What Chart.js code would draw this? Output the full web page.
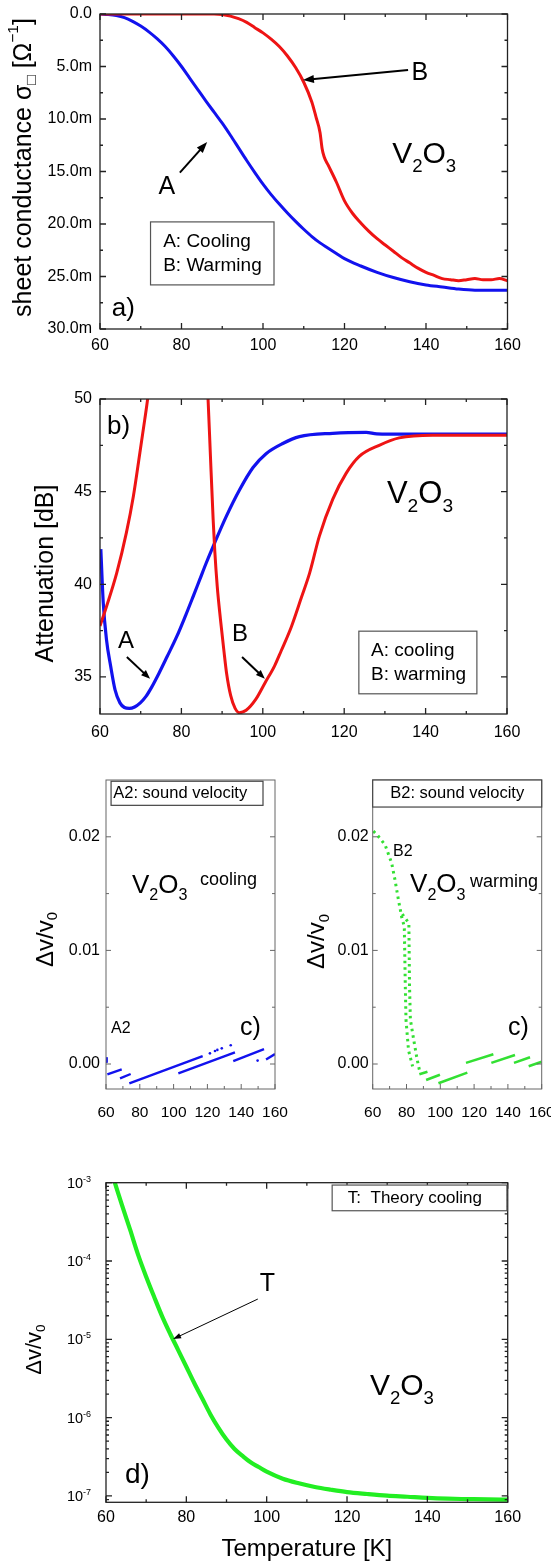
<!DOCTYPE html>
<html><head><meta charset="utf-8">
<script src="https://cdn.jsdelivr.net/npm/chart.js@4.4.0/dist/chart.umd.min.js"></script>
<style>
html,body{margin:0;padding:0;background:#fff;width:551px;height:1561px;overflow:hidden;position:relative}
canvas{position:absolute}
</style></head><body>
<canvas id="ca"></canvas><canvas id="cb"></canvas><canvas id="cc"></canvas><canvas id="cd"></canvas><canvas id="ce"></canvas>
<script>
// ---------------- DATA ----------------
const xTicks = [60, 80, 100, 120, 140, 160];

// panel a: sheet conductance (units of 1e-3 Ohm^-1)
const aYTicks = [0, 5, 10, 15, 20, 25, 30];
const aCoolT = [60,62,64,66,68,70,72,74,76,78,80,82,84,86,88,90,92,94,96,98,100,102,104,106,108,110,112,114,116,118,120,124,128,132,136,140,144,148,152,156,160];
const aCoolS = [0,0.05,0.15,0.35,0.7,1.15,1.7,2.35,3.1,4.0,5.0,6.1,7.2,8.3,9.35,10.4,11.55,12.75,13.95,15.1,16.2,17.2,18.1,18.95,19.75,20.5,21.2,21.8,22.3,22.8,23.3,24.0,24.6,25.1,25.5,25.8,26.0,26.2,26.3,26.3,26.3];
const aWarmT = [60,70,80,88,90,92,94,96,98,100,102,104,106,108,110,112,113,114,114.5,115,116,118,120,122,124,126,128,130,132,134,136,138,140,142,144,146,148,150,152,154,156,158,160];
const aWarmS = [0,0,0,0,0.05,0.2,0.45,0.8,1.3,1.8,2.4,3.1,4.0,5.1,6.5,8.4,9.8,11.3,12.8,13.6,14.4,16.0,17.8,19.0,19.9,20.7,21.4,22.0,22.6,23.2,23.7,24.2,24.6,24.9,25.2,25.3,25.4,25.3,25.2,25.3,25.3,25.2,25.4];

// panel b: attenuation (dB)
const bYTicks = [35, 40, 45, 50];
const bCoolT = [60.2,60.8,61.6,62.6,63.7,64.9,66,67.2,68.5,69.9,71.3,72.7,74.5,76.5,78.9,81,82.9,84.5,86.1,88.2,91,94.3,97.6,100.8,104.9,109,117.2,125.4,128,135,145,160];
const bCoolA = [41.9,39.0,37.0,35.6,34.3,33.6,33.35,33.3,33.38,33.6,33.95,34.45,35.2,36.1,37.2,38.3,39.35,40.25,41.15,42.25,43.65,45.1,46.3,47.05,47.6,47.97,48.15,48.2,48.12,48.1,48.1,48.1];
const bWarmT = [60,61.6,64.1,66.5,68.2,69.8,71,71.7,72.3,null,86.2,86.55,87.1,87.8,88.2,88.8,89.6,90.4,91.1,92.1,93.2,94.2,95.9,98.3,100.6,102.9,104.5,107,109.5,111.5,113.9,117.2,120.5,123.7,128.6,133.5,141.7,150,160];
const bWarmA = [37.75,38.8,40.6,42.8,44.75,47.1,48.9,50,51.2,null,51.5,50,47.1,43.5,41.8,39.9,38.1,36.5,35.2,34.0,33.3,33.07,33.2,33.8,34.7,35.6,36.4,37.7,39.3,40.6,42.6,44.6,46.0,46.9,47.5,47.9,48.05,48.05,48.05];

// panel c: sound velocity dv/v0
const cYTicks = [0, 0.01, 0.02];
const a2T = [60,60.4,null,60.8,69.3,null,68.3,74.6,null,73.8,117.2,null,102.8,136.3,null,135.3,153.5,null,154.7,160];
const a2V = [0.0006,0.0001,null,-0.00091,-0.00047,null,-0.00126,-0.00088,null,-0.0017,0.0007,null,-0.00082,0.00103,null,0.00026,0.0013,null,0.0004,0.00088];
const a2DotT = [121.5,124.5,125.9,128.5,133.8,149.7];
const a2DotV = [0.00094,0.00115,0.00124,0.00138,0.00165,0.0003];
const b2DropT = [60.4,63,67.3,71.2,73.2,75.2,77.2,78.7,79.3,79.7,81.2,83.6,null,77.5,81.4,81.8,82.3,84.3,86.3,87.6];
const b2DropV = [0.0205,0.0201,0.0193,0.0177,0.0162,0.01447,0.0129,0.0121,0.0068,0.0039,0.0012,-0.0002,null,0.0132,0.0124,0.0068,0.0039,0.0021,0.0004,-0.0005];
const b2T = [87.6,92.4,null,91.6,99.8,null,98.9,116,null,115.2,131.4,null,130.2,144.2,null,143.6,153.1,null,152.3,160];
const b2V = [-0.00091,-0.00068,null,-0.0014,-0.00094,null,-0.0017,-0.00076,null,0.0001,0.00085,null,0.0001,0.0008,null,0.0001,0.0006,null,-0.0002,0.0002];

// panel d: theory (log scale)
const dYTicks = [1e-7, 1e-6, 1e-5, 1e-4, 1e-3];
const dT = [62.2,64,66,68,70,72,74,76,78,80,82,84,86,88,90,92,94,96,98,100,104,108,112,116,120,125,130,135,140,145,150,155,160];
const dV = [1e-3,5.13e-4,2.51e-4,1.20e-4,6.31e-5,3.47e-5,1.95e-5,1.17e-5,7.24e-6,4.47e-6,2.75e-6,1.74e-6,1.10e-6,7.41e-7,5.25e-7,3.98e-7,3.24e-7,2.69e-7,2.34e-7,2.04e-7,1.66e-7,1.45e-7,1.30e-7,1.20e-7,1.12e-7,1.06e-7,1.01e-7,9.77e-8,9.44e-8,9.23e-8,9.12e-8,9.02e-8,9.0e-8];

// ---------------- RENDER ----------------
const FONT = "'Liberation Sans', Arial, Helvetica, sans-serif";
const BLUE = '#1212ee', RED = '#ee1414', GREEN_C = '#33e033', GREEN_D = '#22ee22';
function pts(T, V) {
  const out = [];
  for (let i = 0; i < T.length; i++) {
    if (T[i] === null) out.push({x: T[i - 1], y: null});
    else out.push({x: T[i], y: V[i]});
  }
  return out;
}
function mids(m) { return m.slice(0, -1).map((v, i) => (v + m[i + 1]) / 2); }
const V2O3 = [{t:'V'},{t:'2',s:-1},{t:'O'},{t:'3',s:-1}];
const DV = [{t:'\u0394v/v'},{t:'0',s:-1}];

function rich(ctx, x, y, parts, size, align, rot, bl) {
  ctx.save();
  ctx.translate(x, y);
  if (rot) ctx.rotate(rot);
  ctx.textAlign = 'left';
  ctx.textBaseline = bl || 'alphabetic';
  ctx.fillStyle = '#000';
  let w = 0;
  const segs = parts.map(p => {
    const s = p.s ? size * 0.62 : size;
    ctx.font = s + 'px ' + FONT;
    const m = ctx.measureText(p.t).width; w += m;
    return {p, s, m};
  });
  let cx = align === 'center' ? -w / 2 : align === 'right' ? -w : 0;
  for (const g of segs) {
    ctx.font = g.s + 'px ' + FONT;
    const dy = g.p.s === -1 ? size * 0.3 : g.p.s === 1 ? -size * 0.42 : 0;
    ctx.fillText(g.p.t, cx, dy);
    cx += g.m;
  }
  ctx.restore();
}
function arrow(ctx, x1, y1, x2, y2, lw, hl, hw) {
  const a = Math.atan2(y2 - y1, x2 - x1), c = Math.cos(a), s = Math.sin(a);
  ctx.save(); ctx.strokeStyle = '#000'; ctx.fillStyle = '#000'; ctx.lineWidth = lw;
  ctx.beginPath(); ctx.moveTo(x1, y1); ctx.lineTo(x2 - c * hl * 0.8, y2 - s * hl * 0.8); ctx.stroke();
  ctx.beginPath(); ctx.moveTo(x2, y2);
  ctx.lineTo(x2 - hl * c + hw * s, y2 - hl * s - hw * c);
  ctx.lineTo(x2 - hl * c - hw * s, y2 - hl * s + hw * c);
  ctx.closePath(); ctx.fill(); ctx.restore();
}
const DECO = {};
const decoPlugin = {
  id: 'deco',
  afterDraw(ch) {
    const d = DECO[ch.canvas.id]; if (!d) return;
    const ctx = ch.ctx, xs = ch.scales.x, ys = ch.scales.y;
    const {left, right, top, bottom} = ch.chartArea;
    const P = (x, y) => [xs.getPixelForValue(x), ys.getPixelForValue(y)];
    const f = d.frame;
    ctx.save(); ctx.strokeStyle = f.color; ctx.lineWidth = f.lw;
    ctx.beginPath();
    const seg = (a, b, c, e) => { ctx.moveTo(a, b); ctx.lineTo(c, e); };
    [[f.xMaj, f.maj], [f.xMin, f.min]].forEach(([vals, len]) => vals.forEach(v => {
      const px = xs.getPixelForValue(v);
      seg(px, bottom, px, bottom - len); if (f.top) seg(px, top, px, top + len);
    }));
    [[f.yMaj, f.maj], [f.yMin, f.min]].forEach(([vals, len]) => vals.forEach(v => {
      const py = ys.getPixelForValue(v);
      if (py < top - 0.5 || py > bottom + 0.5) return;
      seg(left, py, left + len, py); seg(right, py, right - len, py);
    }));
    ctx.stroke();
    ctx.strokeRect(left, top, right - left, bottom - top);
    ctx.restore();
    (d.boxes || []).forEach(b => {
      const [x1, y1] = P(b.x1, b.y1), [x2, y2] = P(b.x2, b.y2);
      ctx.save(); ctx.fillStyle = '#fff'; ctx.strokeStyle = b.color || '#555'; ctx.lineWidth = 1.2;
      ctx.fillRect(x1, y1, x2 - x1, y2 - y1); ctx.strokeRect(x1, y1, x2 - x1, y2 - y1); ctx.restore();
      b.lines.forEach(l => { const [lx, ly] = P(l.x, l.y); rich(ctx, lx, ly, [{t: l.t}], b.size, l.align || 'left', 0, 'middle'); });
    });
    (d.texts || []).forEach(t => { const [tx, ty] = P(t.x, t.y); rich(ctx, tx, ty, t.parts, t.size, t.align || 'left', 0, t.bl); });
    (d.arrows || []).forEach(a => { const [x1, y1] = P(a.x1, a.y1), [x2, y2] = P(a.x2, a.y2); arrow(ctx, x1, y1, x2, y2, a.lw, a.hl, a.hw); });
    (d.titles || []).forEach(t => {
      if (t.rot) rich(ctx, left + t.dx, (top + bottom) / 2 + t.dy, t.parts, t.size, 'center', -Math.PI / 2, 'middle');
      else rich(ctx, (left + right) / 2 + t.dx, bottom + t.dy, t.parts, t.size, 'center', 0, 'alphabetic');
    });
    if (d.logLabels) {
      d.logLabels.vals.forEach(v => {
        const py = ys.getPixelForValue(v);
        rich(ctx, left + d.logLabels.dx, py + 5, [{t:'10'},{t:String(Math.round(Math.log10(v))), s:1}], d.logLabels.size, 'right', 0, 'alphabetic');
      });
    }
  }
};

function panel(c) {
  const cv = document.getElementById(c.id);
  cv.width = c.cw; cv.height = c.ch;
  cv.style.left = c.cx + 'px'; cv.style.top = c.cy + 'px';
  cv.style.width = c.cw + 'px'; cv.style.height = c.ch + 'px';
  const L = c.plot[0] - c.cx, T = c.plot[1] - c.cy, R = c.plot[2] - c.cx, B = c.plot[3] - c.cy;
  const yW = L - 2, xH = c.ch - B;
  return new Chart(cv, {
    type: 'line',
    data: {datasets: c.datasets},
    options: {
      responsive: false, animation: false, devicePixelRatio: 1,
      layout: {padding: {left: L - yW, top: T, right: c.cw - R, bottom: 0}},
      plugins: {legend: {display: false}, tooltip: {enabled: false}, title: {display: false}},
      elements: {point: {radius: 0}},
      scales: {
        x: {
          type: 'linear', min: 60, max: 160, display: true,
          grid: {display: false, drawTicks: false}, border: {display: false},
          afterBuildTicks: s => { s.ticks = xTicks.map(v => ({value: v})); },
          ticks: {color: '#000', font: {family: FONT, size: c.xFont}, padding: c.xPad, maxRotation: 0, minRotation: 0, autoSkip: false, callback: v => String(v)},
          afterFit: s => { s.height = xH; s.paddingLeft = 0; s.paddingRight = 0; }
        },
        y: {
          type: c.ylog ? 'logarithmic' : 'linear', min: c.ymin, max: c.ymax, reverse: !!c.reverse, display: true,
          grid: {display: false, drawTicks: false}, border: {display: false},
          afterBuildTicks: s => { if (c.yTicks) s.ticks = c.yTicks.map(v => ({value: v})); },
          ticks: {display: !c.ylog, color: '#000', font: {family: FONT, size: c.yFont}, padding: c.yPad, autoSkip: false, callback: c.yFmt || (v => String(v))},
          afterFit: s => { s.width = yW; s.paddingTop = 0; s.paddingBottom = 0; }
        }
      }
    },
    plugins: [decoPlugin]
  });
}
const line = (data, color, w, extra) => Object.assign({data, borderColor: color, borderWidth: w, pointRadius: 0, fill: false, spanGaps: false, cubicInterpolationMode: 'monotone'}, extra || {});

// ----- panel a -----
DECO.ca = {
  frame: {color: '#222', lw: 1.3, xMaj: xTicks, xMin: mids(xTicks), yMaj: aYTicks, yMin: mids(aYTicks), maj: 6, min: 3, top: true},
  texts: [
    {x: 138.5, y: 5.6, parts: [{t:'B'}], size: 25, align: 'center', bl: 'middle'},
    {x: 76.4, y: 16.5, parts: [{t:'A'}], size: 25, align: 'center', bl: 'middle'},
    {x: 131.7, y: 14.2, parts: V2O3, size: 30},
    {x: 62.9, y: 28.8, parts: [{t:'a)'}], size: 26}
  ],
  arrows: [
    {x1: 135.6, y1: 5.33, x2: 109.8, y2: 6.29, lw: 2, hl: 11, hw: 4},
    {x1: 79.6, y1: 15.1, x2: 86.3, y2: 12.2, lw: 2, hl: 11, hw: 4}
  ],
  boxes: [{x1: 72.4, y1: 19.8, x2: 102.7, y2: 25.8, size: 19, lines: [{x: 75.5, y: 21.7, t: 'A: Cooling'}, {x: 75.5, y: 24.0, t: 'B: Warming'}]}],
  titles: [{rot: true, dx: -76, dy: -4, size: 25, parts: [{t:'sheet conductance \u03c3'},{t:'\u25a1',s:-1},{t:' [\u03a9'},{t:'\u22121',s:1},{t:']'}]}]
};
panel({id: 'ca', cx: 0, cy: 0, cw: 551, ch: 365, plot: [100, 14, 507.5, 329], ymin: 0, ymax: 30, reverse: true,
  yTicks: aYTicks, yFmt: v => v === 0 ? '0.0' : v.toFixed(1) + 'm', xFont: 16, yFont: 16, xPad: 7, yPad: 8,
  datasets: [line(pts(aWarmT, aWarmS), RED, 3), line(pts(aCoolT, aCoolS), BLUE, 3)]});

// ----- panel b -----
DECO.cb = {
  frame: {color: '#222', lw: 1.3, xMaj: xTicks, xMin: mids(xTicks), yMaj: bYTicks, yMin: mids(bYTicks), maj: 6, min: 3, top: true},
  texts: [
    {x: 61.7, y: 48.1, parts: [{t:'b)'}], size: 26},
    {x: 130.5, y: 44.4, parts: V2O3, size: 31},
    {x: 66.4, y: 36.9, parts: [{t:'A'}], size: 24, align: 'center', bl: 'middle'},
    {x: 94.4, y: 37.3, parts: [{t:'B'}], size: 24, align: 'center', bl: 'middle'}
  ],
  arrows: [
    {x1: 66.6, y1: 36.08, x2: 72.3, y2: 34.9, lw: 2, hl: 9, hw: 3.5},
    {x1: 94.9, y1: 36.08, x2: 100.5, y2: 34.9, lw: 2, hl: 9, hw: 3.5}
  ],
  boxes: [{x1: 123.6, y1: 37.47, x2: 152.6, y2: 34.09, size: 19, lines: [{x: 126.6, y: 36.4, t: 'A: cooling'}, {x: 126.6, y: 35.1, t: 'B: warming'}]}],
  titles: [{rot: true, dx: -54, dy: 17, size: 25, parts: [{t:'Attenuation [dB]'}]}]
};
panel({id: 'cb', cx: 0, cy: 370, cw: 551, ch: 375, plot: [100, 399, 507, 714], ymin: 33, ymax: 50,
  yTicks: bYTicks, xFont: 16, yFont: 16, xPad: 9, yPad: 8,
  datasets: [line(pts(bWarmT, bWarmA), RED, 3), line(pts(bCoolT, bCoolA), BLUE, 3.2)]});

// ----- panel c (left) -----
DECO.cc = {
  frame: {color: '#666', lw: 1, xMaj: xTicks, xMin: mids(xTicks), yMaj: cYTicks, yMin: mids(cYTicks).concat([-0.005]), maj: 5, min: 3, top: false},
  boxes: [{x1: 63, y1: 0.02489, x2: 152.9, y2: 0.02277, size: 16.5, color: '#444', lines: [{x: 64.3, y: 0.02383, t: 'A2: sound velocity'}]}],
  texts: [
    {x: 75.4, y: 0.01509, parts: V2O3, size: 26},
    {x: 115.6, y: 0.0158, parts: [{t:'cooling'}], size: 18},
    {x: 63, y: 0.00274, parts: [{t:'A2'}], size: 16},
    {x: 139.3, y: 0.00256, parts: [{t:'c)'}], size: 25}
  ],
  titles: [{rot: true, dx: -60, dy: 5, size: 24, parts: DV}]
};
panel({id: 'cc', cx: 0, cy: 770, cw: 290, ch: 355, plot: [106, 780, 275, 1089], ymin: -0.0022, ymax: 0.025,
  yTicks: cYTicks, yFmt: v => v.toFixed(2), xFont: 15.5, yFont: 16, xPad: 14, yPad: 6,
  datasets: [
    line(pts(a2T, a2V), BLUE, 2.4, {cubicInterpolationMode: 'default', tension: 0}),
    line(pts(a2DotT, a2DotV), BLUE, 0, {showLine: false, pointRadius: 1.3, pointBackgroundColor: BLUE, pointBorderWidth: 0})
  ]});

// ----- panel c (right) -----
DECO.cd = {
  frame: {color: '#666', lw: 1, xMaj: xTicks, xMin: mids(xTicks), yMaj: cYTicks, yMin: mids(cYTicks).concat([-0.005]), maj: 5, min: 3, top: false},
  boxes: [{x1: 60, y1: 0.025, x2: 160, y2: 0.02262, size: 16.5, color: '#444', lines: [{x: 110, y: 0.02381, t: 'B2: sound velocity', align: 'center'}]}],
  texts: [
    {x: 72, y: 0.01827, parts: [{t:'B2'}], size: 16},
    {x: 82.1, y: 0.0151, parts: V2O3, size: 26},
    {x: 117.6, y: 0.0156, parts: [{t:'warming'}], size: 18},
    {x: 140, y: 0.00256, parts: [{t:'c)'}], size: 25}
  ],
  titles: [{rot: true, dx: -55, dy: 7, size: 24, parts: DV}]
};
panel({id: 'cd', cx: 290, cy: 770, cw: 261, ch: 355, plot: [372.7, 780, 541.7, 1089], ymin: -0.0022, ymax: 0.025,
  yTicks: cYTicks, yFmt: v => v.toFixed(2), xFont: 15.5, yFont: 16, xPad: 14, yPad: 4,
  datasets: [
    line(pts(b2DropT, b2DropV), GREEN_C, 3, {cubicInterpolationMode: 'default', tension: 0, borderDash: [2.5, 4]}),
    line(pts(b2T, b2V), GREEN_C, 2.6, {cubicInterpolationMode: 'default', tension: 0})
  ]});

// ----- panel d -----
const dMinor = [];
for (let e = -8; e <= -4; e++) for (let m = 2; m <= 9; m++) dMinor.push(m * Math.pow(10, e));
DECO.ce = {
  frame: {color: '#222', lw: 1.3, xMaj: xTicks, xMin: mids(xTicks), yMaj: dYTicks, yMin: dMinor, maj: 6, min: 3, top: true},
  boxes: [{x1: 116.3, y1: 9.33e-4, x2: 159.8, y2: 4.385e-4, size: 17, color: '#555', lines: [{x: 120.2, y: 6.38e-4, t: 'T:  Theory cooling'}]}],
  texts: [
    {x: 100.2, y: 5.08e-5, parts: [{t:'T'}], size: 25, align: 'center', bl: 'middle'},
    {x: 125.7, y: 1.945e-6, parts: V2O3, size: 30},
    {x: 64.7, y: 1.445e-7, parts: [{t:'d)'}], size: 28}
  ],
  arrows: [{x1: 97.8, y1: 3.27e-5, x2: 76.7, y2: 1.007e-5, lw: 1, hl: 8, hw: 2.8}],
  titles: [
    {rot: true, dx: -71, dy: 7, size: 22, parts: DV},
    {rot: false, dx: 0, dy: 54, size: 24, parts: [{t:'Temperature [K]'}]}
  ],
  logLabels: {vals: dYTicks, dx: -15, size: 14.5}
};
panel({id: 'ce', cx: 0, cy: 1170, cw: 551, ch: 391, plot: [106, 1182.7, 507.7, 1502.3], ylog: true, ymin: 8.3e-8, ymax: 1e-3,
  xFont: 16, yFont: 14, xPad: 6, yPad: 6,
  datasets: [line(pts(dT, dV), GREEN_D, 4.2)]});
</script>
</body></html>
